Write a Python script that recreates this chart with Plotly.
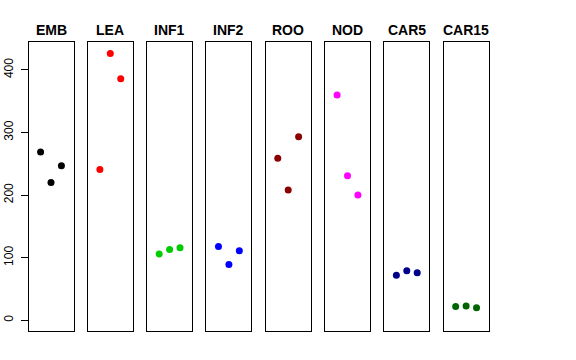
import plotly.graph_objects as go

categories = ["EMB", "LEA", "INF1", "INF2", "ROO", "NOD", "CAR5", "CAR15"]
replicates = [1, 2, 3]
values = {
    "EMB": [269, 220, 247],
    "LEA": [241, 426, 386],
    "INF1": [106, 113, 116],
    "INF2": [118, 89, 111],
    "ROO": [259, 208, 293],
    "NOD": [360, 231, 200],
    "CAR5": [72, 79, 76],
    "CAR15": [22, 23, 20],
}
colors = ["#000000", "#FF0000", "#00CD00", "#0000FF", "#8B0000", "#FF00FF", "#00008B", "#006400"]
y_ticks = [0, 100, 200, 300, 400]

W, H = 576, 360
left0, pw, step = 28.5, 45, 59.3
top_px, bot_px = 42, 331

fig = go.Figure()
for i, cat in enumerate(categories):
    n = "" if i == 0 else str(i + 1)
    fig.add_trace(go.Scatter(
        x=replicates, y=values[cat], mode="markers",
        marker=dict(color=colors[i], size=7, line=dict(width=0)),
        xaxis="x" + n, yaxis="y" + n, showlegend=False, hoverinfo="x+y",
    ))
    x0 = (left0 + i * step) / W
    x1 = (left0 + i * step + pw) / W
    fig.layout["xaxis" + n] = dict(
        domain=[x0, x1], range=[-0.16, 4.16], showgrid=False, zeroline=False,
        showticklabels=False, ticks="", showline=True, mirror=True,
        linecolor="black", linewidth=1, anchor="y" + n, fixedrange=True,
        automargin=False,
    )
    ydict = dict(
        domain=[1 - bot_px / H, 1 - top_px / H], range=[-17.1, 444.5],
        showgrid=False, zeroline=False, showline=True, mirror=True,
        linecolor="black", linewidth=1, anchor="x" + n, fixedrange=True,
        automargin=False,
    )
    if i == 0:
        ydict.update(tickvals=y_ticks, ticktext=[str(v) for v in y_ticks],
                     ticks="outside", ticklen=7, tickcolor="black", tickwidth=1,
                     tickangle=-90, tickfont=dict(size=12, color="black"),
                     ticklabelstandoff=3)
    else:
        ydict.update(showticklabels=False, ticks="")
    fig.layout["yaxis" + n] = ydict
    fig.add_annotation(
        text="<b>" + cat + "</b>", xref="x" + n + " domain", x=0.5,
        yref="paper", y=1 - 30 / H, xanchor="center", yanchor="middle",
        showarrow=False, font=dict(size=14, color="black"),
    )

fig.update_layout(
    width=W, height=H, margin=dict(l=0, r=0, t=0, b=0, autoexpand=False),
    paper_bgcolor="white", plot_bgcolor="white",
    font=dict(family="Liberation Sans, Arial, sans-serif", color="black"),
)
fig.write_html("out.html", config={"displayModeBar": False},
               post_script="document.body.style.margin='0';")
